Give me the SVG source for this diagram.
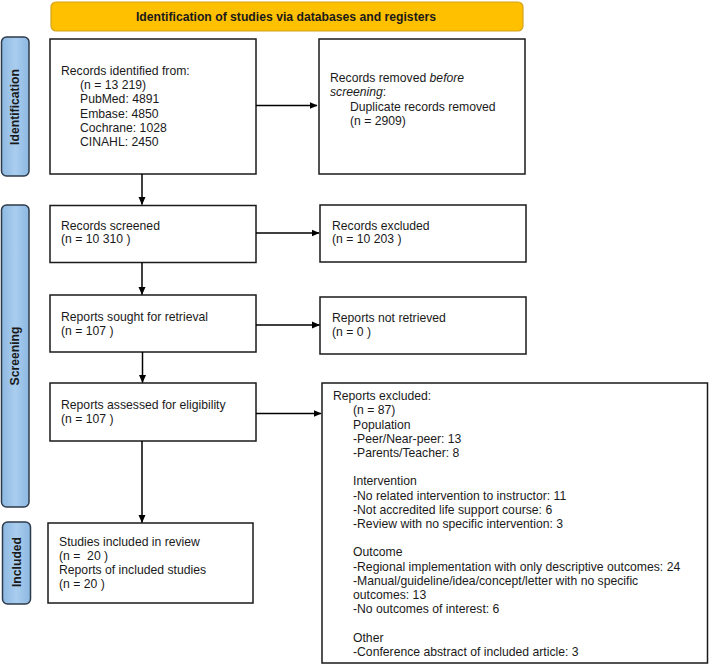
<svg xmlns="http://www.w3.org/2000/svg" width="709" height="664" viewBox="0 0 709 664">
<defs>
<marker id="ah" markerWidth="8" markerHeight="8" refX="7.5" refY="4" orient="auto" markerUnits="userSpaceOnUse">
<path d="M0,0.5 L8,4 L0,7.5 Z" fill="#000"/>
</marker>
<linearGradient id="bg" x1="0" y1="0" x2="1" y2="0">
<stop offset="0" stop-color="#8DB8E2"/>
<stop offset="0.5" stop-color="#A9CDEE"/>
<stop offset="1" stop-color="#8DB8E2"/>
</linearGradient>
</defs>
<style>
.box{fill:#fff;stroke:#1a1a1a;stroke-width:1.5}
.bar{fill:url(#bg);stroke:#2E3B4A;stroke-width:1.5}
.t{font-family:"Liberation Sans",Arial,sans-serif;font-size:12.2px;fill:#1a1a1a;white-space:pre}
.bt{font-family:"Liberation Sans",Arial,sans-serif;font-size:12.2px;font-weight:bold;fill:#1a1a1a}
.side{font-family:"Liberation Sans",Arial,sans-serif;font-size:12.2px;font-weight:bold;fill:#1a1a1a;text-anchor:middle;dominant-baseline:central}
.c line{stroke:#000;stroke-width:1.5;marker-end:url(#ah)}
</style>
<rect width="709" height="664" fill="#fff"/>

<g id="header">
<rect x="51" y="2" width="472" height="29" rx="5" fill="#FFC000" stroke="#D6A21C" stroke-width="1.2"/>
<text class="bt" x="286" y="20.5" text-anchor="middle">Identification of studies via databases and registers</text>
</g>

<g id="bar-identification">
<rect class="bar" x="1.5" y="37" width="27.5" height="139" rx="5"/>
<text class="side" transform="translate(15.2,107) rotate(-90)">Identification</text>
</g>
<g id="bar-screening">
<rect class="bar" x="1.5" y="205" width="27.5" height="302" rx="5"/>
<text class="side" transform="translate(15.2,356) rotate(-90)">Screening</text>
</g>
<g id="bar-included">
<rect class="bar" x="2.5" y="522" width="28" height="82" rx="5"/>
<text class="side" transform="translate(16.5,562) rotate(-90)">Included</text>
</g>

<g id="records-identified">
<rect class="box" x="50" y="39" width="206" height="135"/>
<text class="t" x="61" y="75.2">Records identified from:</text>
<text class="t" x="80" y="89.3">(n = 13 219)</text>
<text class="t" x="80" y="103.4">PubMed: 4891</text>
<text class="t" x="80" y="117.5">Embase: 4850</text>
<text class="t" x="80" y="131.6">Cochrane: 1028</text>
<text class="t" x="80" y="145.7">CINAHL: 2450</text>
</g>

<g id="records-removed">
<rect class="box" x="319" y="39" width="206" height="135"/>
<text class="t" x="330" y="82.3">Records removed <tspan font-style="italic">before</tspan></text>
<text class="t" x="330" y="96.4"><tspan font-style="italic">screening</tspan>:</text>
<text class="t" x="350" y="110.5">Duplicate records removed</text>
<text class="t" x="350" y="124.6">(n = 2909)</text>
</g>

<g id="records-screened">
<rect class="box" x="50" y="205.5" width="206" height="57"/>
<text class="t" x="61" y="229.6">Records screened</text>
<text class="t" x="61" y="243.4">(n = 10 310 )</text>
</g>

<g id="records-excluded">
<rect class="box" x="320" y="205" width="206" height="57"/>
<text class="t" x="332" y="229.6">Records excluded</text>
<text class="t" x="332" y="243.4">(n = 10 203 )</text>
</g>

<g id="reports-sought">
<rect class="box" x="50" y="295" width="206" height="57"/>
<text class="t" x="61" y="321">Reports sought for retrieval</text>
<text class="t" x="61" y="335">(n = 107 )</text>
</g>

<g id="reports-not-retrieved">
<rect class="box" x="320" y="297" width="206" height="57"/>
<text class="t" x="332" y="322">Reports not retrieved</text>
<text class="t" x="332" y="336">(n = 0 )</text>
</g>

<g id="reports-assessed">
<rect class="box" x="50" y="383" width="206" height="58"/>
<text class="t" x="61" y="409">Reports assessed for eligibility</text>
<text class="t" x="61" y="423">(n = 107 )</text>
</g>

<g id="reports-excluded">
<rect class="box" x="322" y="383" width="385.5" height="280"/>
<text class="t" x="333" y="400.2">Reports excluded:</text>
<text class="t" x="353" y="414.4">(n = 87)</text>
<text class="t" x="353" y="428.6">Population</text>
<text class="t" x="353" y="442.8">-Peer/Near-peer: 13</text>
<text class="t" x="353" y="457">-Parents/Teacher: 8</text>
<text class="t" x="353" y="485.4">Intervention</text>
<text class="t" x="353" y="499.6">-No related intervention to instructor: 11</text>
<text class="t" x="353" y="513.8">-Not accredited life support course: 6</text>
<text class="t" x="353" y="528">-Review with no specific intervention: 3</text>
<text class="t" x="353" y="556.4">Outcome</text>
<text class="t" x="353" y="570.6">-Regional implementation with only descriptive outcomes: 24</text>
<text class="t" x="353" y="584.8">-Manual/guideline/idea/concept/letter with no specific</text>
<text class="t" x="353" y="599">outcomes: 13</text>
<text class="t" x="353" y="613.2">-No outcomes of interest: 6</text>
<text class="t" x="353" y="641.6">Other</text>
<text class="t" x="353" y="655.8">-Conference abstract of included article: 3</text>
</g>

<g id="studies-included">
<rect class="box" x="48" y="523" width="205" height="80"/>
<text class="t" x="59" y="545.5">Studies included in review</text>
<text class="t" x="59" y="559.8">(n =  20 )</text>
<text class="t" x="59" y="574.1">Reports of included studies</text>
<text class="t" x="59" y="588.4">(n = 20 )</text>
</g>

<g id="connectors" class="c">
<line x1="256" y1="105.5" x2="317" y2="105.5"/>
<line x1="142" y1="174" x2="142" y2="204.5"/>
<line x1="256" y1="233" x2="319" y2="233"/>
<line x1="142" y1="262.5" x2="142" y2="294.5"/>
<line x1="256" y1="325" x2="319.5" y2="325"/>
<line x1="142.5" y1="352" x2="142.5" y2="382.5"/>
<line x1="256" y1="413.5" x2="321" y2="413.5"/>
<line x1="142" y1="441" x2="142" y2="522.5"/>
</g>
</svg>
